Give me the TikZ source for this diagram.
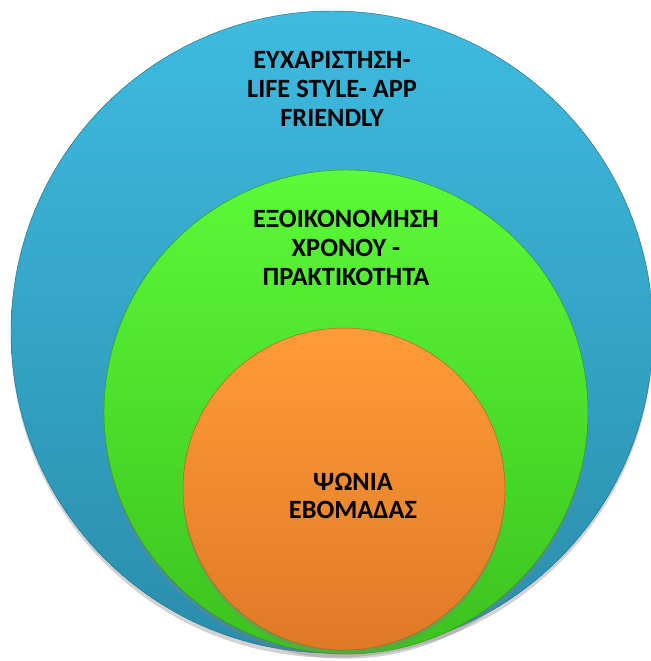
\documentclass[tikz,border=0pt]{standalone}
\usepackage{fontspec}
\setmainfont{Carlito}
\usetikzlibrary{positioning,shadows}
\definecolor{SkyTop}{HTML}{3EBBE0}
\definecolor{SkyBottom}{HTML}{2A8DAB}
\definecolor{LimeTop}{HTML}{5CFA38}
\definecolor{LimeBottom}{HTML}{3CC21E}
\definecolor{ApricotTop}{HTML}{FF9C38}
\definecolor{ApricotBottom}{HTML}{DE7A26}

\begin{document}
\begin{tikzpicture}[x=0.03cm, y=-0.03cm,
    ring/.style={drop shadow={shadow xshift=0pt, shadow yshift=-4pt, opacity=0.35}},
    ringlabel/.style={font=\fontsize{22.5}{24.5}\selectfont\bfseries, align=center, text=black}]
    % Page frame
    \useasboundingbox (0,0) rectangle (651,661);
    \clip (0,0) rectangle (651,661);

    % Outer circle
    \shade[ring, top color=SkyTop, middle color=SkyTop!92!SkyBottom, bottom color=SkyBottom,
        draw=SkyBottom!80!black, line width=0.4pt]
        (332,332) circle[radius=321];
    \node[ringlabel] (enjoy) at (332,89) {ΕΥΧΑΡΙΣΤΗΣΗ-\\LIFE STYLE- APP\\FRIENDLY};

    % Middle circle
    \shade[ring, top color=LimeTop, middle color=LimeTop!92!LimeBottom, bottom color=LimeBottom,
        draw=LimeBottom!80!black, line width=0.4pt]
        (346,412) circle[radius=242];
    \node[ringlabel] (saving) at (346,248) {ΕΞΟΙΚΟΝΟΜΗΣΗ\\ΧΡΟΝΟΥ -\\ΠΡΑΚΤΙΚΟΤΗΤΑ};

    % Inner circle
    \shade[ring, top color=ApricotTop, middle color=ApricotTop!92!ApricotBottom, bottom color=ApricotBottom,
        draw=ApricotBottom!80!black, line width=0.4pt]
        (344,489) circle[radius=161];
    \node[ringlabel] (shopping) at (353,496) {ΨΩΝΙΑ\\ΕΒΟΜΑΔΑΣ};

\end{tikzpicture}
\end{document}
